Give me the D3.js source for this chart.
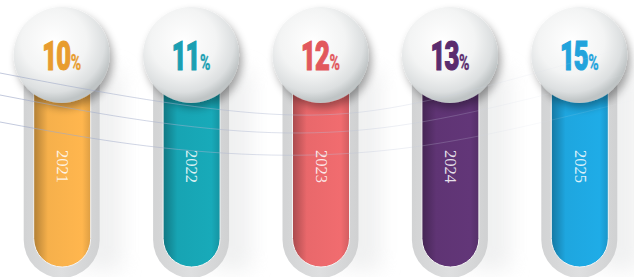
<!DOCTYPE html>
<html>
<head>
<meta charset="utf-8">
<script src="https://cdn.jsdelivr.net/npm/d3@7"></script>
<style>
  html, body { margin: 0; padding: 0; background: #fff; }
  svg { display: block; }
  .year { font-family: "Liberation Serif", "DejaVu Serif", "Times New Roman", serif; }
  .pct { font-family: "Roboto", "DejaVu Sans", sans-serif; }
</style>
</head>
<body>
<script>
var width = 634, height = 277;

// data
var years = ["2021", "2022", "2023", "2024", "2025"];
var values = [10, 11, 12, 13, 15];
var barColors = ["#f6b04b", "#17a4b3", "#e9686b", "#5f3474", "#1ea6df"];
var textColors = ["#e89c2e", "#1a9fb2", "#e2585d", "#5a2c6e", "#22a3dc"];

var x = d3.scaleBand().domain(years).range([-3, 644]).padding(0);

var outerW = 76, innerW = 57, outerBottom = 278, innerBottom = 267, barTop = 80;
var ballR = 48, ballY = 55;

var svg = d3.select("body").append("svg")
    .attr("width", width)
    .attr("height", height);

var defs = svg.append("defs");

var ballGrad = defs.append("radialGradient")
    .attr("id", "ball")
    .attr("cx", "42%").attr("cy", "36%").attr("r", "62%");
ballGrad.append("stop").attr("offset", "0%").attr("stop-color", "#ffffff");
ballGrad.append("stop").attr("offset", "55%").attr("stop-color", "#f3f4f4");
ballGrad.append("stop").attr("offset", "85%").attr("stop-color", "#dcdfe0");
ballGrad.append("stop").attr("offset", "100%").attr("stop-color", "#bfc4c5");

var shadow = defs.append("filter").attr("id", "shadow")
    .attr("x", "-30%").attr("y", "-30%").attr("width", "170%").attr("height", "170%");
shadow.append("feGaussianBlur").attr("in", "SourceAlpha").attr("stdDeviation", 4);
shadow.append("feOffset").attr("dx", 3).attr("dy", 5).attr("result", "b");
shadow.append("feComponentTransfer").append("feFuncA").attr("type", "linear").attr("slope", 0.35);
var merge = shadow.append("feMerge");
merge.append("feMergeNode");
merge.append("feMergeNode").attr("in", "SourceGraphic");

var soft = defs.append("filter").attr("id", "soft")
    .attr("x", "-50%").attr("y", "-20%").attr("width", "200%").attr("height", "140%");
soft.append("feGaussianBlur").attr("stdDeviation", 10);

var outerGrad = defs.append("linearGradient").attr("id", "outer")
    .attr("x1", "0%").attr("x2", "100%");
outerGrad.append("stop").attr("offset", "0%").attr("stop-color", "#d2d3d4");
outerGrad.append("stop").attr("offset", "50%").attr("stop-color", "#dedfe0");
outerGrad.append("stop").attr("offset", "100%").attr("stop-color", "#d0d1d2");

barColors.forEach(function(c, i) {
    var g = defs.append("linearGradient").attr("id", "bar" + i)
        .attr("x1", "0%").attr("x2", "100%");
    g.append("stop").attr("offset", "0%").attr("stop-color", d3.color(c).darker(0.9));
    g.append("stop").attr("offset", "25%").attr("stop-color", c);
    g.append("stop").attr("offset", "85%").attr("stop-color", d3.color(c).brighter(0.1));
    g.append("stop").attr("offset", "100%").attr("stop-color", d3.color(c).darker(0.3));
});

var fade = defs.append("linearGradient").attr("id", "fade")
    .attr("gradientUnits", "userSpaceOnUse")
    .attr("x1", 0).attr("x2", 634).attr("y1", 0).attr("y2", 0);
fade.append("stop").attr("offset", "0%").attr("stop-color", "#9aa5c6").attr("stop-opacity", 0.9);
fade.append("stop").attr("offset", "45%").attr("stop-color", "#aeb7d1").attr("stop-opacity", 0.6);
fade.append("stop").attr("offset", "75%").attr("stop-color", "#ccd2e2").attr("stop-opacity", 0.3);
fade.append("stop").attr("offset", "100%").attr("stop-color", "#e4e7ef").attr("stop-opacity", 0.1);

function capsule(cx, w, top, bottom) {
    var r = w / 2;
    return "M" + (cx - r) + "," + top +
        "H" + (cx + r) +
        "V" + (bottom - r) +
        "A" + r + "," + r + " 0 0 1 " + (cx - r) + "," + (bottom - r) + "Z";
}

var items = years.map(function(y, i) {
    return { year: y, value: values[i], i: i };
});

var g = svg.append("g").selectAll("g")
    .data(items)
    .join("g")
    .attr("transform", function(d) { return "translate(" + (x(d.year) + x.bandwidth() / 2) + ",0)"; });

// soft shade right of the capsule
g.append("rect")
    .attr("x", 20).attr("y", 70)
    .attr("width", 40).attr("height", 200)
    .attr("fill", "#e6e7e8")
    .attr("opacity", 0.6)
    .attr("filter", "url(#soft)");

g.append("path")
    .attr("d", capsule(0, outerW, barTop, outerBottom))
    .attr("fill", "url(#outer)");

g.append("path")
    .attr("d", capsule(0.5, innerW, barTop, innerBottom))
    .attr("fill", function(d) { return "url(#bar" + d.i + ")"; })
    .attr("stroke", "#f4f4f4")
    .attr("stroke-width", 1);

g.append("text")
    .attr("class", "year")
    .attr("transform", "translate(1,150) rotate(90)")
    .attr("font-size", 16.5)
    .attr("fill", "#fff")
    .attr("fill-opacity", 0.85)
    .attr("dy", "0.35em")
    .text(function(d) { return d.year; });

// background curves, drawn faintly over the capsules
var curves = [
    [[0, 73], [130, 98], [260, 116], [360, 116], [470, 92], [634, 45]],
    [[0, 95], [130, 120], [260, 135], [370, 132], [480, 112], [634, 72]],
    [[0, 122], [130, 146], [260, 157], [370, 154], [480, 138], [634, 100]]
];
var line = d3.line().curve(d3.curveBasis);
svg.append("g").selectAll("path")
    .data(curves)
    .join("path")
    .attr("d", line)
    .attr("fill", "none")
    .attr("stroke", "url(#fade)")
    .attr("stroke-width", 0.9)
    .attr("opacity", 0.75);

g.append("circle")
    .attr("cx", 0).attr("cy", ballY).attr("r", ballR)
    .attr("fill", "url(#ball)")
    .attr("filter", "url(#shadow)");

var label = g.append("text")
    .attr("class", "pct")
    .attr("transform", "translate(0,70) scale(0.64,1)")
    .attr("text-anchor", "middle")
    .attr("font-weight", 900)
    .attr("fill", function(d) { return textColors[d.i]; })
    .attr("stroke", function(d) { return textColors[d.i]; })
    .attr("stroke-width", 1.2);
label.append("tspan")
    .attr("font-size", 40)
    .attr("letter-spacing", -1.5)
    .text(function(d) { return d.value; });
label.append("tspan")
    .attr("font-size", 22)
    .attr("font-weight", 700)
    .attr("stroke-width", 0.4)
    .attr("dx", 1)
    .text("%");
</script>
</body>
</html>
